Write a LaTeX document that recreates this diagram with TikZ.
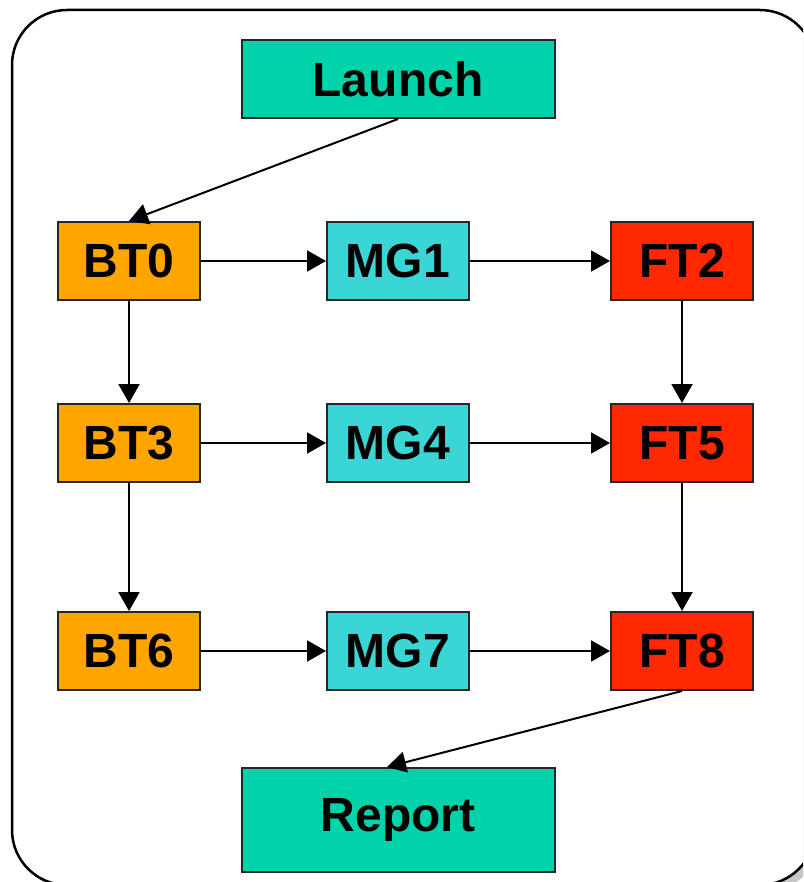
\documentclass[tikz,border=0pt]{standalone}
\usepackage{fontspec}
\setmainfont{Liberation Sans}
\usetikzlibrary{arrows.meta}
\definecolor{tealbox}{RGB}{0,210,170}
\definecolor{orangebox}{RGB}{255,165,0}
\definecolor{cyanbox}{RGB}{58,214,214}
\definecolor{redbox}{RGB}{255,40,0}
\tikzset{
  box/.style={draw=black!85, line width=2pt, minimum width=142pt, minimum height=78pt, inner sep=0pt,
    font=\fontsize{48}{56}\selectfont\bfseries, text=black},
  bigbox/.style={box, minimum width=313pt},
  conn/.style={line width=2pt, -{Triangle[length=19pt,width=21pt]}}
}
\begin{document}
\begin{tikzpicture}[x=1pt,y=-1pt]
\useasboundingbox (0,0) rectangle (803,882);
\begin{scope}
\clip (0,0) rectangle (803,882);
\fill[black!22, rounded corners=55pt] (18,16) rectangle (821,891);
\draw[fill=white, line width=2.5pt, rounded corners=55pt] (12,10) rectangle (815,885);
\end{scope}
\node[bigbox, fill=tealbox] (launch) at (398,79) {Launch};
\node[bigbox, fill=tealbox, minimum height=104pt] (report) at (398,820) {Report};
\node[box, fill=orangebox] (bt0) at (129,261) {BT0};
\node[box, fill=cyanbox] (mg1) at (398,261) {MG1};
\node[box, fill=redbox] (ft2) at (682,261) {FT2};
\node[box, fill=orangebox] (bt3) at (129,443) {BT3};
\node[box, fill=cyanbox] (mg4) at (398,443) {MG4};
\node[box, fill=redbox] (ft5) at (682,443) {FT5};
\node[box, fill=orangebox] (bt6) at (129,651) {BT6};
\node[box, fill=cyanbox] (mg7) at (398,651) {MG7};
\node[box, fill=redbox] (ft8) at (682,651) {FT8};
\draw[conn] (launch.south) -- (bt0.north);
\draw[conn] (bt0) -- (mg1);
\draw[conn] (mg1) -- (ft2);
\draw[conn] (bt3) -- (mg4);
\draw[conn] (mg4) -- (ft5);
\draw[conn] (bt6) -- (mg7);
\draw[conn] (mg7) -- (ft8);
\draw[conn] (bt0) -- (bt3);
\draw[conn] (bt3) -- (bt6);
\draw[conn] (ft2) -- (ft5);
\draw[conn] (ft5) -- (ft8);
\draw[conn] (ft8.south) -- ([xshift=-11pt]report.north);
\end{tikzpicture}
\end{document}
